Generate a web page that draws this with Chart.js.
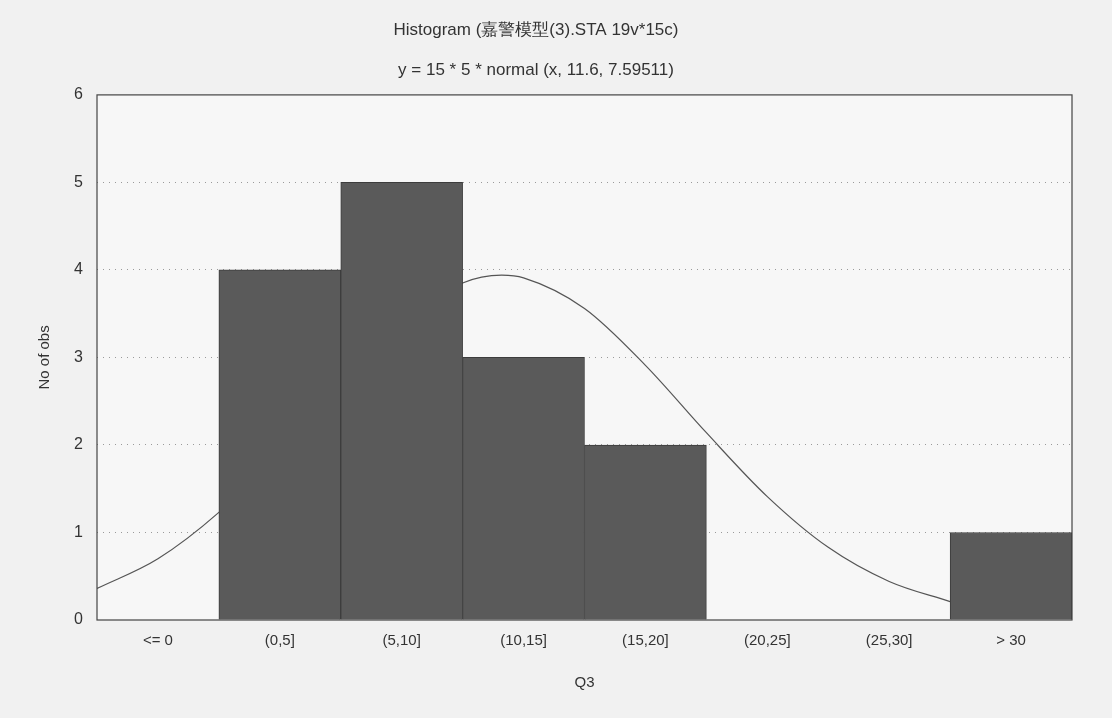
<!DOCTYPE html>
<html>
<head>
<meta charset="utf-8">
<script src="https://cdn.jsdelivr.net/npm/chart.js@4/dist/chart.umd.min.js"></script>
<style>
  html, body { margin: 0; padding: 0; background: #f1f1f1; }
  #wrap { width: 1112px; height: 718px; }
</style>
</head>
<body>
<div id="wrap"><canvas id="c" width="1112" height="718"></canvas></div>
<script>
// ---- data ----
const categories = ['<= 0', '(0,5]', '(5,10]', '(10,15]', '(15,20]', '(20,25]', '(25,30]', '> 30'];
const counts = [0, 4, 5, 3, 2, 0, 0, 1];
// fitted normal curve at these Q3 positions
const curveX = [-5, -2.5, 0, 2.5, 5, 7.5, 10, 11.6, 12.5, 15, 17.5, 20, 22.5, 25, 27.5, 30];
const curveY = [0.36, 0.70, 1.23, 1.92, 2.70, 3.40, 3.85, 3.94, 3.91, 3.56, 2.91, 2.14, 1.41, 0.83, 0.44, 0.21];
const yTicks = [0, 1, 2, 3, 4, 5, 6];
const titleLines = ['Histogram (嘉警模型(3).STA 19v*15c)', 'y = 15 * 5 * normal (x, 11.6, 7.59511)'];
const xTitle = 'Q3';
const yTitle = 'No of obs';

const FONT = "'Liberation Sans', Arial, sans-serif";

const boxPlugin = {
  id: 'box',
  beforeDraw(chart) {
    const a = chart.chartArea, ctx = chart.ctx;
    ctx.save();
    ctx.fillStyle = '#f7f7f7';
    ctx.fillRect(a.left, a.top, a.right - a.left, a.bottom - a.top);
    ctx.restore();
  },
  afterDraw(chart) {
    const a = chart.chartArea, ctx = chart.ctx;
    ctx.save();
    ctx.strokeStyle = '#444';
    ctx.lineWidth = 1.2;
    ctx.strokeRect(a.left, a.top, a.right - a.left, a.bottom - a.top);
    ctx.restore();
  }
};

new Chart(document.getElementById('c'), {
  data: {
    labels: categories,
    datasets: [
      {
        type: 'bar',
        data: counts,
        backgroundColor: '#5a5a5a',
        borderColor: '#3c3c3c',
        borderWidth: 1,
        barPercentage: 1,
        categoryPercentage: 1,
        grouped: false,
        xAxisID: 'x',
        order: 1
      },
      {
        type: 'line',
        data: curveX.map((x, i) => ({ x: x, y: curveY[i] })),
        xAxisID: 'x2',
        borderColor: '#555',
        borderWidth: 1.2,
        pointRadius: 0,
        fill: false,
        cubicInterpolationMode: 'monotone',
        order: 2
      }
    ]
  },
  options: {
    responsive: false,
    animation: false,
    layout: { padding: { left: 0, right: 40, top: 0, bottom: 0 } },
    plugins: {
      legend: { display: false },
      tooltip: { enabled: false },
      title: {
        display: true,
        text: titleLines,
        color: '#333',
        font: { family: FONT, size: 17, weight: 'normal', lineHeight: 2.35 },
        padding: { top: 10, bottom: 5 }
      }
    },
    scales: {
      x: {
        type: 'category',
        offset: true,
        grid: { display: false, drawTicks: false },
        border: { display: false },
        ticks: { color: '#333', font: { family: FONT, size: 15 }, padding: 12, maxRotation: 0 },
        title: { display: true, text: xTitle, color: '#333', font: { family: FONT, size: 15 }, padding: { top: 0, bottom: 26 } },
        afterFit(axis) { axis.height = 98; }
      },
      x2: {
        type: 'linear',
        display: false,
        position: 'bottom',
        min: -5,
        max: 35
      },
      y: {
        min: 0,
        max: 6,
        afterBuildTicks(axis) { axis.ticks = yTicks.map(v => ({ value: v })); },
        grid: {
          drawTicks: false,
          color: ctx => (ctx.tick && (ctx.tick.value === 0 || ctx.tick.value === 6)) ? 'rgba(0,0,0,0)' : '#9a9a9a',
          lineWidth: 1
        },
        border: { display: false, dash: [1, 5] },
        ticks: { color: '#333', font: { family: FONT, size: 16 }, padding: 14 },
        title: { display: true, text: yTitle, color: '#333', font: { family: FONT, size: 15 }, padding: { top: 36, bottom: 0 } },
        afterFit(axis) { axis.width = 97; }
      }
    }
  },
  plugins: [boxPlugin]
});
</script>
</body>
</html>
